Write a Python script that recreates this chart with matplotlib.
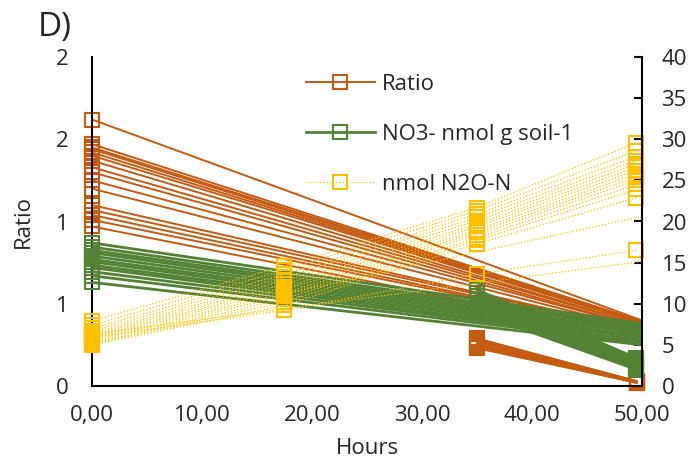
import numpy as np
import pandas as pd
import matplotlib
matplotlib.use("Agg")
import matplotlib.pyplot as plt
from matplotlib.ticker import FuncFormatter, MultipleLocator
from matplotlib.lines import Line2D

plt.rcParams["font.family"] = ["Open Sans", "DejaVu Sans"]

# === data ===
hours = [0, 17.5, 35, 49.5, 52]
nan = np.nan

# Ratio (left axis)
ratio_rows = [
    [1.62, nan, nan, nan, 0.35],
    [1.47, nan, nan, nan, 0.35],
    [1.45, nan, nan, nan, 0.35],
    [1.44, nan, nan, nan, 0.34],
    [1.42, nan, nan, nan, 0.34],
    [1.40, nan, nan, nan, 0.34],
    [1.37, nan, nan, nan, 0.33],
    [1.33, nan, nan, nan, 0.33],
    [1.30, nan, nan, nan, 0.32],
    [1.25, nan, nan, nan, 0.32],
    [1.20, nan, nan, nan, 0.31],
    [1.10, nan, nan, nan, 0.31],
    [1.07, nan, nan, nan, 0.31],
    [1.04, nan, nan, nan, 0.30],
    [1.01, nan, nan, nan, 0.30],
    [0.97, nan, nan, nan, 0.28],
    [nan, nan, 0.29, 0.03, nan],
    [nan, nan, 0.28, 0.03, nan],
    [nan, nan, 0.27, 0.025, nan],
    [nan, nan, 0.26, 0.025, nan],
    [nan, nan, 0.25, 0.02, nan],
    [nan, nan, 0.24, 0.02, nan],
    [nan, nan, 0.23, 0.02, nan],
]

# NO3- nmol g soil-1 (right axis)
no3_rows = [
    [17.4, nan, nan, nan, 7.2],
    [16.9, nan, nan, nan, 6.9],
    [16.5, nan, nan, nan, 6.7],
    [16.2, nan, nan, nan, 6.4],
    [15.8, nan, nan, nan, 6.2],
    [15.4, nan, nan, nan, 6.0],
    [15.1, nan, nan, nan, 5.7],
    [14.7, nan, nan, nan, 5.5],
    [14.4, nan, nan, nan, 5.2],
    [13.9, nan, nan, nan, 5.1],
    [13.4, nan, nan, nan, 4.9],
    [12.6, nan, nan, nan, 4.7],
    [nan, nan, 11.7, 3.4, nan],
    [nan, nan, 11.3, 3.2, nan],
    [nan, nan, 10.9, 3.0, nan],
    [nan, nan, 10.5, 2.8, nan],
    [nan, nan, 10.1, 2.6, nan],
    [nan, nan, 9.7, 2.4, nan],
    [nan, nan, 9.3, 2.2, nan],
    [nan, nan, 8.9, 2.0, nan],
]

# nmol N2O-N (right axis)
n2o_rows = [
    [7.9, 14.6, 21.7, 29.6, nan],
    [7.4, 14.1, 21.3, 28.6, nan],
    [7.0, 13.6, 20.9, 27.9, nan],
    [6.7, 13.2, 20.5, 27.4, nan],
    [6.4, 12.8, 20.1, 27.0, nan],
    [6.2, 12.4, 19.7, 26.6, nan],
    [6.0, 12.0, 19.4, 26.2, nan],
    [5.8, 11.7, 19.0, 25.8, nan],
    [5.6, 11.3, 18.7, 25.4, nan],
    [5.4, 11.0, 18.4, 25.0, nan],
    [5.2, 10.6, 18.0, 24.5, nan],
    [5.1, 10.2, 17.7, 23.9, nan],
    [5.0, 9.8, 17.3, 22.9, nan],
    [5.9, 9.2, 13.6, 16.5, nan],
    [6.3, nan, nan, nan, 15.5],
    [nan, 11.2, nan, nan, 21.2],
]

labels = ["Ratio", "NO3- nmol g soil-1", "nmol N2O-N"]
c_ratio = "#C55A11"
c_no3 = "#548235"
c_n2o = "#FFC000"
txt = "#262626"
fs = 16


def draw(ax, rows, color, lw, ls):
    for row in rows:
        s = pd.Series(row, index=hours).dropna()
        ax.plot(s.index, s.values, color=color, lw=lw, ls=ls)
        vis = s[s.index <= 50]
        ax.plot(vis.index, vis.values, ls="none", marker="s", ms=10.5,
                mfc="none", mec=color, mew=1.5, clip_on=False)


fig = plt.figure(figsize=(6.92, 4.61), dpi=100)
ax = fig.add_axes([92 / 692, 1 - 386 / 461, 550 / 692, 329 / 461])
ax2 = ax.twinx()

draw(ax, ratio_rows, c_ratio, 1.4, "-")
draw(ax2, no3_rows, c_no3, 2.0, "-")
draw(ax2, n2o_rows, c_n2o, 0.9, ":")

ax.set_xlim(0, 50)
ax.set_ylim(0, 2)
ax2.set_ylim(0, 40)

ax.xaxis.set_major_locator(MultipleLocator(10))
ax.yaxis.set_major_locator(MultipleLocator(0.5))
ax2.yaxis.set_major_locator(MultipleLocator(5))
ax.xaxis.set_major_formatter(FuncFormatter(lambda v, p: f"{v:.2f}".replace(".", ",")))
ax.yaxis.set_major_formatter(FuncFormatter(lambda v, p: f"{int(np.floor(v + 0.5))}"))

for a in (ax, ax2):
    a.spines["top"].set_visible(False)
for side in ("left", "bottom"):
    ax.spines[side].set_linewidth(1.5)
    ax.spines[side].set_color("black")
ax.spines["right"].set_visible(False)
ax2.spines["left"].set_visible(False)
ax2.spines["bottom"].set_visible(False)
ax2.spines["right"].set_linewidth(1.5)
ax2.spines["right"].set_color("black")

ax.tick_params(axis="y", length=0, pad=17, labelsize=fs, labelcolor=txt)
ax.tick_params(axis="x", length=0, pad=14, labelsize=fs, labelcolor=txt)
ax2.tick_params(axis="y", direction="in", length=6, width=1.5, pad=14,
                labelsize=fs, labelcolor=txt)

ax.set_xlabel("Hours", fontsize=fs, color=txt, labelpad=8)
ax.set_ylabel("Ratio", fontsize=fs, color=txt, labelpad=16)
fig.text(38 / 692, 1 - 11 / 461, "D)", fontsize=24, color=txt, va="top", ha="left")

handles = [
    Line2D([], [], color=c_ratio, lw=1.4, marker="s", ms=10.5, mfc="none", mew=1.5),
    Line2D([], [], color=c_no3, lw=2.0, marker="s", ms=10.5, mfc="none", mew=1.5),
    Line2D([], [], color=c_n2o, lw=0.9, ls=":", marker="s", ms=10.5, mfc="none", mew=1.5),
]
leg = ax2.legend(handles, labels, loc="upper left",
                 bbox_to_anchor=(306 / 692, 1 - 74 / 461), bbox_transform=fig.transFigure,
                 frameon=False, fontsize=fs, handlelength=3.1, handletextpad=0.3,
                 labelspacing=1.3, borderpad=0, borderaxespad=0, numpoints=1)
for t in leg.get_texts():
    t.set_color(txt)

plt.savefig("out.png", dpi=100)
plt.close()
